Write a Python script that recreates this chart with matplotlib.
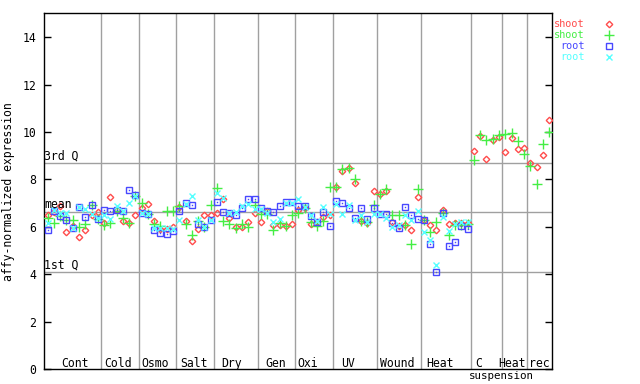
import matplotlib
matplotlib.use("Agg")
import matplotlib.pyplot as plt
import numpy as np

# groups on the x axis (number of samples in each)
groups = ["Cont", "Cold", "Osmo", "Salt", "Dry", "Gen", "Oxi", "UV",
          "Wound", "Heat", "C", "Heat", "rec"]
group_sizes = [9, 6, 6, 6, 7, 6, 6, 7, 7, 8, 5, 4, 4]
label_pos = [5.3, 12.3, 18.2, 24.3, 30.4, 37.3, 42.5, 48.9, 56.8, 63.6, 69.7, 75.1, 79.5]

shoot_red = [6.50, 6.63, 6.87, 5.79, 6.04, 5.56, 5.86, 6.48, 6.62,
             6.17, 7.24, 6.70, 6.26, 6.15, 6.48,
             6.80, 6.96, 6.25, 5.92, 5.90, 6.01,
             6.82, 6.25, 5.42, 5.90, 6.48, 6.50,
             6.60, 7.16, 6.36, 6.01, 6.00, 6.20, 6.60,
             6.20, 6.66, 6.08, 6.07, 6.04, 6.11,
             6.71, 6.80, 6.10, 6.22, 6.42, 6.50,
             7.66, 8.34, 8.47, 7.83, 6.23, 6.16, 7.49,
             7.37, 7.50, 6.20, 6.05, 6.06, 5.86, 7.25,
             6.30, 6.07, 5.87, 6.70, 6.10, 6.17, 6.18, 6.15,
             9.18, 9.81, 8.85, 9.68, 9.78,
             9.14, 9.73, 9.27, 9.31,
             8.70, 8.51, 9.01, 10.49]

shoot_green = [6.38, 6.15, 6.45, 6.30, 6.27, 6.01, 6.10, 6.90, 6.32,
               6.07, 6.15, 6.65, 6.39, 6.17, 7.31,
               7.02, 6.55, 6.10, 6.02, 6.65, 6.65,
               6.87, 6.12, 5.64, 6.25, 6.00, 6.92,
               7.63, 6.26, 6.12, 5.97, 6.10, 6.00, 6.94,
               6.54, 6.56, 5.87, 6.17, 6.03, 6.49,
               6.60, 6.78, 6.22, 6.03, 6.24, 7.66,
               7.66, 8.43, 8.47, 8.02, 6.26, 6.20, 6.92,
               7.37, 7.58, 6.49, 6.49, 6.06, 5.27, 7.59,
               6.28, 5.78, 6.19, 6.57, 5.65, 6.07, 6.08, 6.10,
               8.81, 9.88, 9.68, 9.69, 9.88,
               9.92, 9.95, 9.61, 9.06,
               8.55, 7.80, 9.50, 9.99]

nan = float("nan")
root_blue = [5.87, 6.68, 6.44, 6.29, 5.94, 6.83, 6.40, 6.91, 6.32,
             6.69, 6.65, 6.72, 6.66, 7.54, 7.33,
             6.58, 6.55, 5.87, 5.73, 5.69, 5.83,
             6.66, 6.99, 6.92, 6.10, 5.98, 6.29,
             7.04, 6.62, 6.57, 6.48, 6.78, 7.16, 7.16,
             6.78, 6.67, 6.63, 6.87, 7.06, 7.06,
             6.86, 6.86, 6.45, 6.21, 6.62, 6.03,
             7.08, 7.00, 6.78, 6.36, 6.78, 6.33, 6.79,
             6.54, 6.56, 6.14, 5.94, 6.83, 6.50, 6.32,
             6.27, 5.27, 4.08, 6.60, 5.18, 5.36, 6.03, 5.90] + [nan] * 13

root_cyan = [6.15, 6.70, 6.58, 6.57, 5.95, 6.82, 6.74, 6.55, 6.35,
             6.48, 6.31, 6.87, 6.68, 7.01, 7.30,
             6.60, 6.56, 5.95, 5.95, 5.95, 5.90,
             6.28, 6.95, 7.29, 6.29, 5.98, 6.30,
             7.44, 7.21, 6.58, 6.63, 6.87, 6.98, 6.73,
             6.75, 6.60, 6.22, 6.31, 7.00, 7.00,
             7.16, 6.85, 6.48, 6.25, 6.82, 6.54,
             6.98, 6.54, 6.92, 6.30, 6.50, 6.20, 6.56,
             6.55, 6.35, 6.01, 6.07, 6.49, 6.28, 6.66,
             5.79, 5.45, 4.38, 6.40, 5.82, 6.10, 6.19, 6.20] + [nan] * 13

q1, mean, q3 = 4.08, 6.62, 8.67

font = "DejaVu Sans Mono"
fs = 8.3
red, green, blue, cyan = "#ff4c4c", "#44ee44", "#4848ff", "#55ffff"
grey = "#a0a0a0"

n = len(shoot_red)
x = np.arange(1, n + 1)

fig = plt.figure(figsize=(6.4, 3.84), dpi=100)
ax = fig.add_axes([0.0695, 0.039, 0.7935, 0.926])
ax.set_xlim(0.5, n + 0.5)
ax.set_ylim(0, 15)

# separators between the groups
bounds = np.cumsum(group_sizes)[:-1] + 0.5
for b in bounds:
    ax.axvline(b, color=grey, lw=1, zorder=1)

# quartile / mean lines
for val, txt in [(q3, "3rd Q"), (mean, "mean"), (q1, "1st Q")]:
    ax.axhline(val, color=grey, lw=1, zorder=1)
    ax.text(0.5, val + 0.05, txt, ha="left", va="bottom", family=font,
            fontsize=fs, zorder=5)

ax.plot(x, shoot_red, ls="none", marker="D", ms=3.3, mfc="none", mec=red, mew=1, zorder=3)
ax.plot(x, shoot_green, ls="none", marker="+", ms=6.5, mec=green, mew=1, zorder=3)
ax.plot(x, root_blue, ls="none", marker="s", ms=4.6, mfc="none", mec=blue, mew=1, zorder=3)
ax.plot(x, root_blue, ls="none", marker="s", ms=1, mfc=blue, mec=blue, mew=0, zorder=3)
ax.plot(x, root_cyan, ls="none", marker="x", ms=4.5, mec=cyan, mew=1, zorder=3)

# group labels
for lab, pos in zip(groups, label_pos):
    ax.text(pos, 0.1, lab, ha="center", va="baseline", family=font, fontsize=fs)
ax.text(73.4, -0.3, "suspension", ha="center", va="center", family=font,
        fontsize=7.8, clip_on=False)

ax.set_xticks([])
ax.set_yticks(range(0, 15, 2))
ax.tick_params(axis="y", direction="in", length=5, width=1, right=True, pad=6)
for t in ax.get_yticklabels():
    t.set_family(font)
    t.set_fontsize(fs)
for s in ax.spines.values():
    s.set_linewidth(1)

fig.text(0.014, 0.5, "affy-normalized expression", rotation=90, ha="center",
         va="center", family=font, fontsize=fs)

# legend at the right
leg = [("shoot", red, "D", 3.3, "none"), ("shoot", green, "+", 6.5, green),
       ("root", blue, "s", 4.6, "none"), ("root", cyan, "x", 4.5, cyan)]
for i, (name, c, m, ms, fc) in enumerate(leg):
    yy = 0.970 - i * 0.0305
    ax.text(1.064, yy, name, color=c, ha="right", va="center", family=font,
            fontsize=7.4, transform=ax.transAxes, clip_on=False)
    ax.plot([1.112], [yy], marker=m, ms=ms, mfc=fc, mec=c, mew=1,
            transform=ax.transAxes, clip_on=False)

fig.savefig("out.png", dpi=100)
